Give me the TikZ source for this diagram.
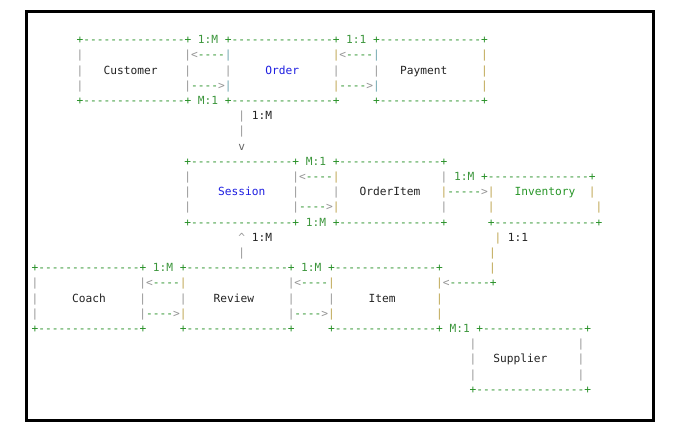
\documentclass[tikz,border=0pt]{standalone}
\usepackage{fontspec}
\setmonofont{DejaVu Sans Mono}
\definecolor{grn}{RGB}{40,145,40}
\definecolor{lbl}{RGB}{60,150,60}
\definecolor{wall}{RGB}{150,150,150}
\definecolor{dwall}{RGB}{100,100,100}
\definecolor{gold}{RGB}{190,165,80}
\definecolor{teal}{RGB}{110,165,175}
\definecolor{ink}{RGB}{35,35,35}
\definecolor{blu}{RGB}{30,30,225}
\definecolor{inv}{RGB}{40,150,40}
\newcounter{tn}
\newcommand\tx[4]{\stepcounter{tn}\node[txt,text=#3] (t\arabic{tn}) at ({#1-3.37},{43.8+15.2*(#2)}) {#4};}
\newcommand\tc[4]{\tx{80+6.74*(#1)}{#2}{#3}{#4}}
\newcommand\bc[4]{\tx{35+6.74*(#1)}{#2}{#3}{#4}}
\newcommand\boxline{+---------------+}
\begin{document}
\begin{tikzpicture}[x=1pt,y=-1pt,
  txt/.style={font=\ttfamily\fontsize{11.2}{13}\selectfont, inner sep=0pt, outer sep=0pt, anchor=base west}]
\useasboundingbox (0,0) rectangle (677,435);
\fill[white] (0,0) rectangle (677,435);
\draw[line width=3pt] (26,11.5) rectangle (653,420.5);
% Row 0
\tc{0}{0}{grn}{\boxline} \tc{18}{0}{lbl}{1:M} \tc{22}{0}{grn}{\boxline} \tc{40}{0}{lbl}{1:1} \tc{44}{0}{grn}{\boxline}
% Row 1
\tc{0}{1}{wall}{|} \tc{16}{1}{wall}{|} \tc{17}{1}{wall}{<} \tc{18}{1}{grn}{----} \tc{22}{1}{teal}{|}
\tc{38}{1}{gold}{|} \tc{39}{1}{wall}{<} \tc{40}{1}{grn}{----} \tc{44}{1}{teal}{|} \tc{60}{1}{gold}{|}
% Row 2
\tc{0}{2}{wall}{|} \tc{4}{2}{ink}{Customer} \tc{16}{2}{wall}{|} \tc{22}{2}{wall}{|} \tc{28}{2}{blu}{Order}
\tc{38}{2}{wall}{|} \tc{44}{2}{wall}{|} \tc{48}{2}{ink}{Payment} \tc{60}{2}{gold}{|}
% Row 3
\tc{0}{3}{wall}{|} \tc{16}{3}{wall}{|} \tc{17}{3}{grn}{----} \tc{21}{3}{wall}{>} \tc{22}{3}{teal}{|}
\tc{38}{3}{gold}{|} \tc{39}{3}{grn}{----} \tc{43}{3}{wall}{>} \tc{44}{3}{teal}{|} \tc{60}{3}{gold}{|}
% Row 4
\tc{0}{4}{grn}{\boxline} \tc{18}{4}{lbl}{M:1} \tc{22}{4}{grn}{\boxline} \tc{44}{4}{grn}{\boxline}
% Rows 5-7
\tc{24}{5}{wall}{|} \tc{26}{5}{ink}{1:M} \tc{24}{6}{wall}{|} \tc{24}{7}{dwall}{v}
% Row 8
\tc{16}{8}{grn}{\boxline} \tc{34}{8}{lbl}{M:1} \tc{38}{8}{grn}{\boxline}
% Row 9
\tc{16}{9}{wall}{|} \tc{32}{9}{wall}{|} \tc{33}{9}{wall}{<} \tc{34}{9}{grn}{----} \tc{38}{9}{gold}{|}
\tc{54}{9}{wall}{|} \tc{56}{9}{lbl}{1:M} \tc{60}{9}{grn}{\boxline}
% Row 10
\tc{16}{10}{wall}{|} \tc{21}{10}{blu}{Session} \tc{32}{10}{wall}{|} \tc{38}{10}{wall}{|} \tc{42}{10}{ink}{OrderItem}
\tc{54}{10}{gold}{|} \tc{55}{10}{grn}{-----} \tc{60}{10}{wall}{>} \tc{61}{10}{gold}{|} \tc{65}{10}{inv}{Inventory} \tc{76}{10}{gold}{|}
% Row 11
\tc{16}{11}{wall}{|} \tc{32}{11}{wall}{|} \tc{33}{11}{grn}{----} \tc{37}{11}{wall}{>} \tc{38}{11}{gold}{|}
\tc{54}{11}{wall}{|} \tc{61}{11}{gold}{|} \tc{77}{11}{gold}{|}
% Row 12
\tc{16}{12}{grn}{\boxline} \tc{34}{12}{lbl}{1:M} \tc{38}{12}{grn}{\boxline} \tc{61}{12}{grn}{\boxline}
% Row 13
\tc{24}{13}{wall}{\textasciicircum} \tc{26}{13}{ink}{1:M} \tc{62}{13}{gold}{|} \tc{64}{13}{ink}{1:1}
% Rows 14-15 (connectors)
\tc{24}{14}{wall}{|} \tc{61.2}{14}{gold}{|} \tc{61.2}{15}{gold}{|}
% Row 15
\bc{0}{15}{grn}{\boxline} \bc{18}{15}{lbl}{1:M} \bc{22}{15}{grn}{\boxline} \bc{40}{15}{lbl}{1:M} \bc{44}{15}{grn}{\boxline}
% Row 16
\bc{0}{16}{wall}{|} \bc{16}{16}{wall}{|} \bc{17}{16}{wall}{<} \bc{18}{16}{grn}{----} \bc{22}{16}{gold}{|}
\bc{38}{16}{wall}{|} \bc{39}{16}{wall}{<} \bc{40}{16}{grn}{----} \bc{44}{16}{gold}{|}
\bc{60}{16}{gold}{|} \bc{61}{16}{wall}{<} \bc{62}{16}{grn}{------+}
% Row 17
\bc{0}{17}{wall}{|} \bc{6}{17}{ink}{Coach} \bc{16}{17}{wall}{|} \bc{22}{17}{wall}{|} \bc{27}{17}{ink}{Review}
\bc{38}{17}{wall}{|} \bc{44}{17}{wall}{|} \bc{50}{17}{ink}{Item} \bc{60}{17}{gold}{|}
% Row 18
\bc{0}{18}{wall}{|} \bc{16}{18}{wall}{|} \bc{17}{18}{grn}{----} \bc{21}{18}{wall}{>} \bc{22}{18}{gold}{|}
\bc{38}{18}{wall}{|} \bc{39}{18}{grn}{----} \bc{43}{18}{wall}{>} \bc{44}{18}{gold}{|} \bc{60}{18}{gold}{|}
% Row 19
\bc{0}{19}{grn}{\boxline} \bc{22}{19}{grn}{\boxline} \bc{44}{19}{grn}{\boxline} \bc{62}{19}{lbl}{M:1} \bc{66}{19}{grn}{\boxline}
% Rows 20-23 (Supplier)
\bc{65}{20}{wall}{|} \bc{81}{20}{wall}{|}
\bc{65}{21}{wall}{|} \bc{68.5}{21}{ink}{Supplier} \bc{81}{21}{wall}{|}
\bc{65}{22}{wall}{|} \bc{81}{22}{wall}{|}
\bc{65}{23}{grn}{+----------------+}
\end{tikzpicture}
\end{document}
